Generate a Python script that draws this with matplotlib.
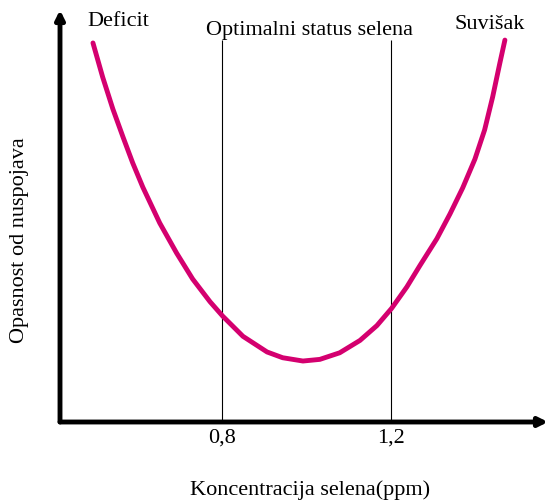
import matplotlib.pyplot as plt

plt.rcParams["font.family"] = ["Liberation Serif", "DejaVu Serif"]

# selenium concentration (ppm) and relative risk
concentration = [0.495, 0.518, 0.542, 0.566, 0.589, 0.613, 0.653, 0.693, 0.731,
                 0.772, 0.802, 0.850, 0.907, 0.944, 0.992, 1.032, 1.079, 1.127,
                 1.167, 1.202, 1.238, 1.269, 1.309, 1.340, 1.370, 1.399, 1.422,
                 1.441, 1.458, 1.470]
risk = [9.20, 8.37, 7.60, 6.92, 6.29, 5.70, 4.83, 4.10, 3.47,
        2.92, 2.57, 2.08, 1.70, 1.56, 1.48, 1.52, 1.68, 1.98,
        2.34, 2.76, 3.28, 3.80, 4.45, 5.05, 5.68, 6.38, 7.09,
        7.89, 8.71, 9.27]
optimal_bounds = [0.8, 1.2]
tick_labels = ["0,8", "1,2"]
zone_labels = ["Deficit", "Optimalni status selena", "Suvišak"]
zone_x = [0.554, 1.008, 1.434]
zone_y = [9.71, 9.51, 9.64]

fig = plt.figure(figsize=(5.48, 5.0), dpi=100)
ax = fig.add_axes([0.1095, 0.156, 0.8905, 0.824])
ax.set_xlim(0.417, 1.572)
ax.set_ylim(0, 10)
for s in ax.spines.values():
    s.set_visible(False)

ax.vlines(optimal_bounds, 0, 9.27, color="black", lw=0.8)
ax.plot(concentration, risk, color="#d4006f", lw=3.5,
        solid_capstyle="round", solid_joinstyle="round")

# axes with arrow heads
arrow = dict(arrowstyle="-|>", color="black", lw=3.5, mutation_scale=13,
             shrinkA=0, shrinkB=0)
ax.annotate("", xy=(0, 1), xytext=(0, 0), xycoords="axes fraction",
            arrowprops=arrow)
ax.annotate("", xy=(1, 0), xytext=(0, 0), xycoords="axes fraction",
            arrowprops=arrow)

ax.set_xticks(optimal_bounds, tick_labels, fontsize=16)
ax.tick_params(axis="x", length=0, pad=5)
ax.set_yticks([])

for lab, x, y in zip(zone_labels, zone_x, zone_y):
    ax.text(x, y, lab, ha="center", va="center", fontsize=16)

fig.text(310 / 548, 1 - 490 / 500, "Koncentracija selena(ppm)", ha="center",
         va="center", fontsize=16)
fig.text(20 / 548, 1 - 240 / 500, "Opasnost od nuspojava", ha="center",
         va="center", rotation=90, fontsize=16)

fig.savefig("out.png", dpi=100)
